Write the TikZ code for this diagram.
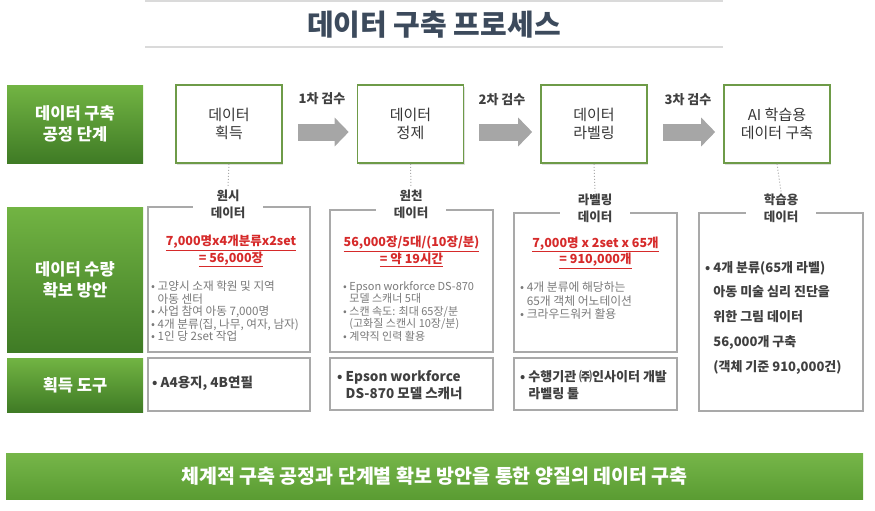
\documentclass[tikz,border=0pt]{standalone}
\usepackage{fontspec}
\setmainfont{Noto Sans CJK KR}
\usetikzlibrary{arrows.meta,shadows}

\definecolor{titlecol}{HTML}{3C4A5C}
\definecolor{lightline}{HTML}{DADADA}
\definecolor{greentop}{HTML}{72B443}
\definecolor{greenbot}{HTML}{3F7B25}
\definecolor{stagegreen}{HTML}{6E9B48}
\definecolor{boxgray}{HTML}{A9A9A9}
\definecolor{arrowgray}{HTML}{A6A6A6}
\definecolor{bodytxt}{HTML}{404040}
\definecolor{smallgray}{HTML}{7A7A7A}
\definecolor{redtxt}{HTML}{D62A2A}
\definecolor{bannertop}{HTML}{76B649}
\definecolor{bannerbot}{HTML}{5A9C32}

\tikzset{
  titletxt/.style={font=\fontsize{29}{32}\bfseries\selectfont, text=titlecol, inner sep=0},
  titleline/.style={draw=lightline, line width=2pt},
  greenbox/.style={top color=greentop, bottom color=greenbot, draw=none, minimum width=136,
    align=center, text=white, font=\fontsize{16.5}{21}\bfseries\selectfont},
  stagebox/.style={draw=stagegreen, line width=1.6pt, fill=white, minimum width=106,
    minimum height=78, align=center, text=bodytxt!85!black, font=\fontsize{15}{18}\selectfont,
    drop shadow={shadow xshift=1pt, shadow yshift=-1.5pt, opacity=0.25}},
  grayarrow/.style={draw=arrowgray, line width=17pt, -{Triangle[width=28pt,length=14pt]}},
  checktxt/.style={font=\fontsize{13}{15}\bfseries\selectfont, text=bodytxt, inner sep=0},
  contbox/.style={draw=boxgray, line width=1.2pt, fill=white},
  datalabel/.style={fill=white, minimum width=70, inner sep=2pt, align=center,
    text=bodytxt, font=\fontsize{12.5}{17}\bfseries\selectfont},
  dotline/.style={draw=boxgray, dotted, line width=1pt},
  redcalc/.style={align=center, inner sep=0, text=redtxt, font=\fontsize{12.5}{14.5}\bfseries\selectfont},
  smalllist/.style={align=left, inner sep=0, anchor=north west, text=smallgray,
    font=\fontsize{11}{12.5}\selectfont},
  toollist/.style={align=left, inner sep=0, anchor=west, text=bodytxt,
    font=\fontsize{13.5}{16.5}\bfseries\selectfont},
  banner/.style={top color=bannertop, bottom color=bannerbot, draw=none, minimum width=857,
    minimum height=46, text=white, font=\fontsize{19.5}{22}\bfseries\selectfont}
}

\begin{document}
\begin{tikzpicture}[x=1pt,y=-1pt]
  \useasboundingbox (0,0) rectangle (875,511);

  % title
  \draw[titleline] (145,1.5) -- (723,1.5);
  \draw[titleline] (145,47) -- (723,47);
  \node[titletxt] (title) at (434,25) {데이터 구축 프로세스};

  % row headers
  \node[greenbox, minimum height=78] (g1) at (75,124) {데이터 구축\\공정 단계};
  \node[greenbox, minimum height=145] (g2) at (75,279.5) {데이터 수량\\확보 방안};
  \node[greenbox, minimum height=54] (g3) at (75,385) {획득 도구};

  % process stages
  \node[stagebox] (s1) at (229,124) {데이터\\획득};
  \node[stagebox] (s2) at (410.5,124) {데이터\\정제};
  \node[stagebox] (s3) at (594,124) {데이터\\라벨링};
  \node[stagebox] (s4) at (777,124) {AI 학습용\\데이터 구축};

  % checks between stages
  \draw[grayarrow, shorten <=15pt, shorten >=8pt] ([yshift=-8pt]s1.east) -- ([yshift=-8pt]s2.west);
  \draw[grayarrow, shorten <=15pt, shorten >=8pt] ([yshift=-8pt]s2.east) -- ([yshift=-8pt]s3.west);
  \draw[grayarrow, shorten <=15pt, shorten >=8pt] ([yshift=-8pt]s3.east) -- ([yshift=-8pt]s4.west);
  \node[checktxt] (k1) at (322,99) {1차 검수};
  \node[checktxt] (k2) at (502,100) {2차 검수};
  \node[checktxt] (k3) at (688,100) {3차 검수};

  % quantity boxes
  \node[contbox, minimum width=162, minimum height=145] (c1) at (229,279.5) {};
  \node[contbox, minimum width=163, minimum height=142] (c2) at (411.5,281) {};
  \node[contbox, minimum width=163, minimum height=139] (c3) at (595.5,282.5) {};
  \node[contbox, minimum width=164, minimum height=198] (c4) at (781,312) {};

  \node[datalabel] (l1) at (228,204) {원시\\데이터};
  \node[datalabel] (l2) at (411,204) {원천\\데이터};
  \node[datalabel] (l3) at (595,208) {라벨링\\데이터};
  \node[datalabel] (l4) at (781,208) {학습용\\데이터};

  \draw[dotline] (s1.south) -- (l1.north);
  \draw[dotline] (s2.south) -- (l2.north);
  \draw[dotline] (s3.south) -- (l3.north);
  \draw[dotline] (s4.south) -- (l4.north);

  \node[redcalc] (r1) at (231,251) {\underline{7,000명x4개분류x2set}\\\underline{= 56,000장}};
  \node[redcalc] (r2) at (411.5,251.5) {\underline{56,000장/5대/(10장/분)}\\\underline{= 약 19시간}};
  \node[redcalc] (r3) at (595.5,252.5) {\underline{7,000명 x 2set x 65개}\\\underline{= 910,000개}};

  \node[smalllist, font=\fontsize{11.6}{12.5}\selectfont] (n1) at (151,281) {• 고양시 소재 학원 및 지역\\\phantom{• }아동 센터\\• 사업 참여 아동 7,000명\\• 4개 분류(집, 나무, 여자, 남자)\\• 1인 당 2set 작업};
  \node[smalllist] (n2) at (343,281) {• Epson workforce DS-870\\\phantom{• }모델 스캐너 5대\\• 스캔 속도: 최대 65장/분\\\phantom{• }(고화질 스캔시 10장/분)\\• 계약직 인력 활용};
  \node[smalllist, font=\fontsize{11.8}{13.5}\selectfont] (n3) at (520,282) {• 4개 분류에 해당하는\\\phantom{• }65개 객체 어노테이션\\• 크라우드워커 활용};

  \node[toollist, anchor=north west, font=\fontsize{13}{24.8}\bfseries\selectfont] (n4) at (705,261)
    {• 4개 분류(65개 라벨)\\\phantom{• }아동 미술 심리 진단을\\\phantom{• }위한 그림 데이터\\\phantom{• }56,000개 구축\\\phantom{• }(객체 기준 910,000건)};

  % tool boxes
  \node[contbox, minimum width=162, minimum height=53] (t1) at (229,384.5) {};
  \node[contbox, minimum width=163, minimum height=52] (t2) at (411.5,384) {};
  \node[contbox, minimum width=163, minimum height=52] (t3) at (595.5,384) {};

  \node[toollist] (u1) at (152,383) {• A4용지, 4B연필};
  \node[toollist] (u2) at (337,385) {• Epson workforce\\\phantom{• }DS-870 모델 스캐너};
  \node[toollist, font=\fontsize{13}{16.5}\bfseries\selectfont] (u3) at (520,385) {• 수행기관 ㈜인사이터 개발\\\phantom{• }라벨링 툴};

  % summary
  \node[banner] (sum) at (434.5,476) {체계적 구축 공정과 단계별 확보 방안을 통한 양질의 데이터 구축};
\end{tikzpicture}
\end{document}
